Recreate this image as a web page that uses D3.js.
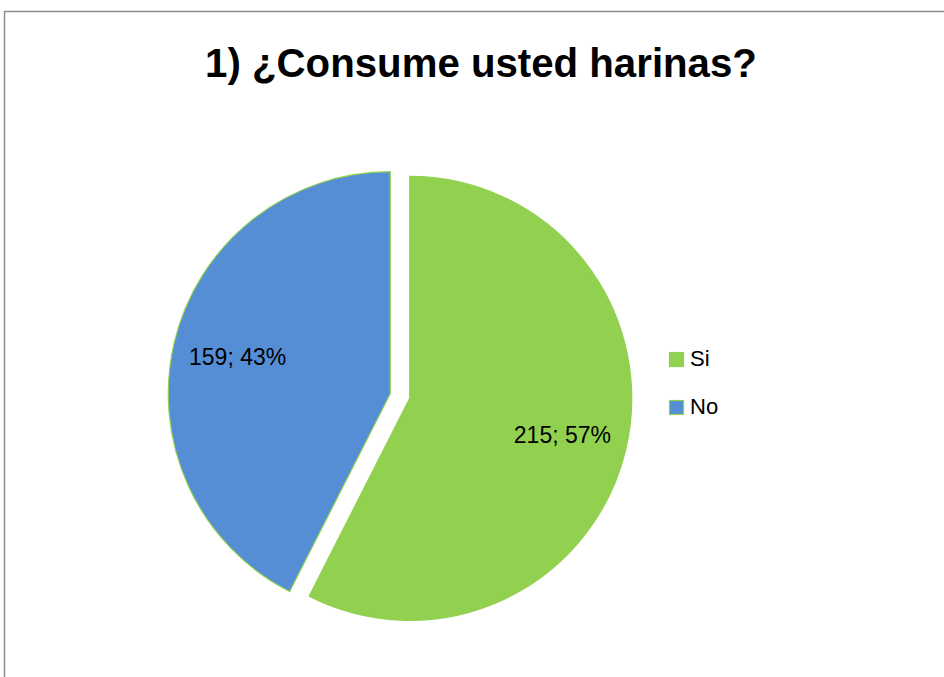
<!DOCTYPE html>
<html>
<head>
<meta charset="utf-8">
<script src="https://cdn.jsdelivr.net/npm/d3@7"></script>
<style>
  body { margin: 0; background: #fff; }
  text { font-family: "Liberation Sans", Arial, sans-serif; }
</style>
</head>
<body>
<div id="chart"></div>
<script>
const w = 944, h = 677

// data
const categories = ["Si", "No"]
const values = [215, 159]
const colors = ["#92D050", "#558ED5"]
const title = "1) ¿Consume usted harinas?"

const cx = 400, cy = 396, r = 222, explode = 10

const svg = d3.select("#chart").append("svg")
    .attr("width", w)
    .attr("height", h)

// chart border
svg.append("rect")
    .attr("x", 4.5)
    .attr("y", 11.5)
    .attr("width", w + 20)
    .attr("height", h + 20)
    .attr("fill", "white")
    .attr("stroke", "#8c8c8c")
    .attr("stroke-width", 1.5)

// title, sized to fit the original width
const titleText = svg.append("text")
    .attr("x", 481)
    .attr("y", 77)
    .attr("text-anchor", "middle")
    .attr("font-weight", "bold")
    .attr("font-size", 36)
    .attr("fill", "black")
    .text(title)
const tw = titleText.node().getComputedTextLength()
titleText.attr("font-size", 36 * 552 / tw)

const total = d3.sum(values)
const pie = d3.pie().sort(null).value(d => d)
const arcs = pie(values)

const arc = d3.arc().innerRadius(0).outerRadius(r)
const labelArc = d3.arc().innerRadius(157).outerRadius(157)

const slices = svg.selectAll("g.slice")
    .data(arcs)
    .enter()
    .append("g")
    .attr("class", "slice")
    .attr("transform", d => {
        const a = (d.startAngle + d.endAngle) / 2
        return "translate(" + [cx + explode * Math.sin(a), cy - explode * Math.cos(a)] + ")"
    })

slices.append("path")
    .attr("d", arc)
    .attr("fill", (d, i) => colors[i])
    .attr("stroke", "#92D050")
    .attr("stroke-width", 1.2)

slices.append("text")
    .attr("transform", d => "translate(" + labelArc.centroid(d) + ")")
    .attr("text-anchor", "middle")
    .attr("dy", "0.35em")
    .attr("font-size", 23)
    .attr("fill", "black")
    .text(d => d.value + "; " + Math.round(d.value / total * 100) + "%")

// legend
const legendScale = d3.scaleBand()
    .domain(categories)
    .range([345, 441])

const legend = svg.selectAll("g.legend")
    .data(categories)
    .enter()
    .append("g")
    .attr("class", "legend")
    .attr("transform", d => "translate(669," + legendScale(d) + ")")

legend.append("rect")
    .attr("x", 0.5)
    .attr("y", 7.5)
    .attr("width", 14)
    .attr("height", 14)
    .attr("fill", (d, i) => colors[i])
    .attr("stroke", "#92D050")
    .attr("stroke-width", 1.2)

legend.append("text")
    .attr("x", 21)
    .attr("y", 21)
    .attr("font-size", 22)
    .attr("fill", "black")
    .text(d => d)
</script>
</body>
</html>
